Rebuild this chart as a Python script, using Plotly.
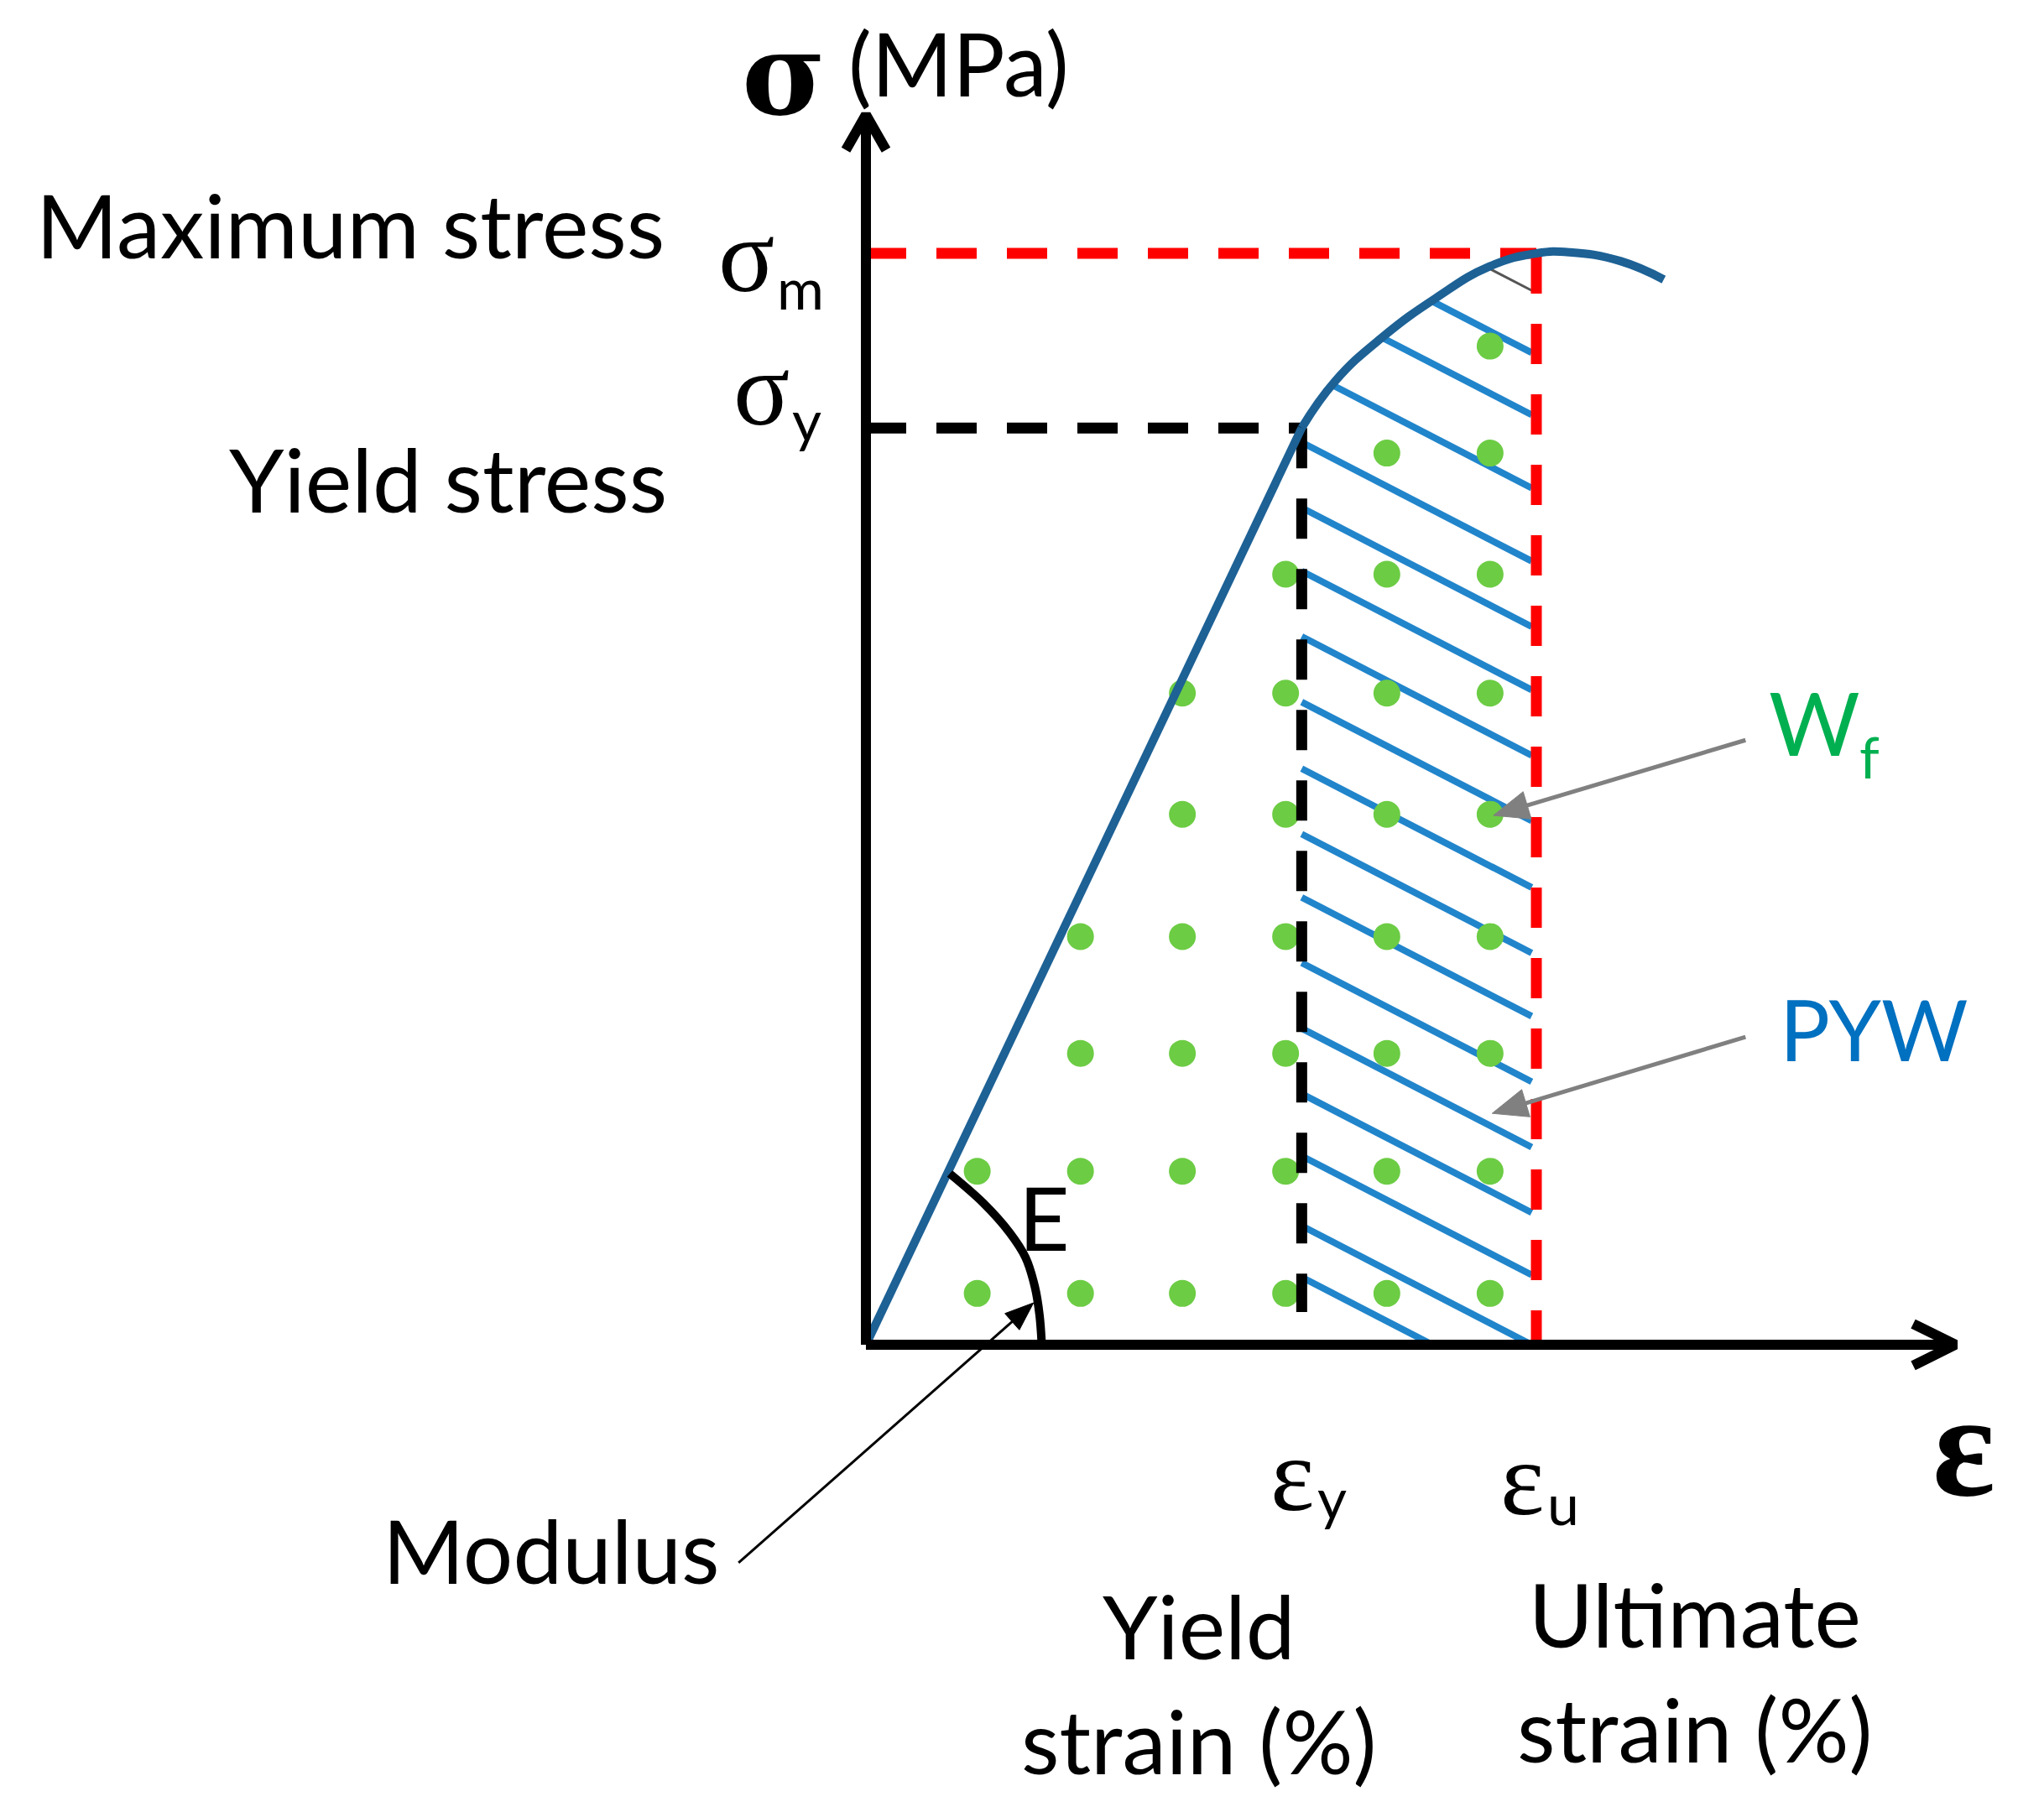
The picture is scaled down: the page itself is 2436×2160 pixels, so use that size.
import numpy as np
import plotly.graph_objects as go

# ---------------- data (strain in arbitrary %, stress in arbitrary MPa) ----------------
eps_y = 6.5          # yield strain
eps_u = 10.0         # ultimate strain
sig_y = 84.0         # yield stress
sig_m = 100.0        # maximum stress

# elastic part
elastic_strain = [0.0, 6.5]
elastic_stress = [0.0, 84.0]
# plastic part (smooth)
plastic_strain = [6.5, 7.0, 7.7, 8.5, 9.3, 10.0, 10.5, 11.25, 11.9]
plastic_stress = [84.0, 88.3, 92.3, 95.9, 98.8, 100.0, 100.1, 99.3, 97.6]

# hatch lines (PYW): stress at the right end (at eps_u) of each line
hatch_right_stress = [-4.7, 0.0, 6.4, 12.1, 18.1, 24.1, 30.1, 35.9, 41.9, 48.0,
                      54.0, 60.0, 65.8, 71.8, 78.5, 85.2, 90.9]
hatch_grey_stress = [96.6]
hatch_slope = 3.175           # stress per strain unit (lines fall to the right)
hatch_right_strain = 9.93

# green dots (Wf)
dot_rows = [91.5, 81.7, 70.6, 59.7, 48.6, 37.4, 26.7, 15.9, 4.7]
dot_cols = [1.66, 3.20, 4.72, 6.26, 7.77, 9.31]
dot_first_col = [5, 4, 3, 2, 2, 1, 1, 0, 0]   # first column index present in each row

# modulus arc "E"
arc_strain = [1.25, 1.75, 2.14, 2.38, 2.52, 2.59, 2.62]
arc_stress = [15.68, 12.99, 10.30, 8.00, 5.30, 2.69, 0.31]

# axes extents
eps_axis_max = 16.25
sig_axis_max = 112.7

# arrows (tail -> head)
modulus_arrow = {"tail": (-1.90, -19.98), "head": (2.50, 3.84)}
wf_arrow = {"tail": (13.12, 55.4), "head": (9.36, 48.5)}
pyw_arrow = {"tail": (13.12, 28.2), "head": (9.34, 21.2)}

# ---------------- canvas ----------------
W, H = 2436, 2160
X_RANGE = [-12.816, 17.672]
Y_RANGE = [-43.43, 122.60]
KX = W / (X_RANGE[1] - X_RANGE[0])     # px per strain unit
KY = H / (Y_RANGE[1] - Y_RANGE[0])     # px per stress unit

BLUE_CURVE = "#1D6195"
BLUE_HATCH = "#2185CB"
GREEN_DOT = "#6CCC44"
RED = "#FF0000"

fig = go.Figure()

curve_x = np.array(plastic_strain)
curve_y = np.array(plastic_stress)


def hatch_segment(c):
    def L(x):
        return c + hatch_slope * (hatch_right_strain - x)
    xr = hatch_right_strain
    if c < 0:
        xr = hatch_right_strain + c / hatch_slope
    xl = eps_y
    if L(eps_y) > sig_y:
        xs = np.linspace(eps_y, hatch_right_strain, 2000)
        diff = L(xs) - np.interp(xs, curve_x, curve_y)
        idx = np.argmax(diff <= 0)
        xl = xs[idx]
    return [xl, xr], [L(xl), L(xr)]


for c in hatch_right_stress:
    hx, hy = hatch_segment(c)
    fig.add_trace(go.Scatter(x=hx, y=hy, mode="lines",
                             line=dict(color=BLUE_HATCH, width=8), hoverinfo="skip"))
for c in hatch_grey_stress:
    hx, hy = hatch_segment(c)
    fig.add_trace(go.Scatter(x=hx, y=hy, mode="lines",
                             line=dict(color="#555555", width=3), hoverinfo="skip"))

# dots
dx, dy = [], []
for r, first in zip(dot_rows, dot_first_col):
    for cx in dot_cols[first:]:
        dx.append(cx)
        dy.append(r)
fig.add_trace(go.Scatter(x=dx, y=dy, mode="markers",
                         marker=dict(color=GREEN_DOT, size=32, line=dict(width=0)),
                         hoverinfo="skip"))

# dashed guide lines
DASH = "48px,36px"
fig.add_trace(go.Scatter(x=[0, eps_u], y=[sig_m, sig_m], mode="lines",
                         line=dict(color=RED, width=13, dash=DASH), hoverinfo="skip"))
fig.add_trace(go.Scatter(x=[eps_u, eps_u], y=[sig_m, 0], mode="lines",
                         line=dict(color=RED, width=13, dash=DASH), hoverinfo="skip"))
fig.add_trace(go.Scatter(x=[0, eps_y], y=[sig_y, sig_y], mode="lines",
                         line=dict(color="black", width=13, dash=DASH), hoverinfo="skip"))
fig.add_trace(go.Scatter(x=[eps_y, eps_y], y=[sig_y, 3.0], mode="lines",
                         line=dict(color="black", width=13, dash=DASH), hoverinfo="skip"))

# stress-strain curve
fig.add_trace(go.Scatter(x=elastic_strain, y=elastic_stress, mode="lines",
                         line=dict(color=BLUE_CURVE, width=10), hoverinfo="skip"))
fig.add_trace(go.Scatter(x=plastic_strain, y=plastic_stress, mode="lines",
                         line=dict(color=BLUE_CURVE, width=10, shape="spline", smoothing=1.3),
                         hoverinfo="skip"))

# E arc
fig.add_trace(go.Scatter(x=arc_strain, y=arc_stress, mode="lines",
                         line=dict(color="black", width=10, shape="spline", smoothing=1.0),
                         hoverinfo="skip"))

# axes with open arrow heads
fig.add_trace(go.Scatter(x=[0, eps_axis_max], y=[0, 0], mode="lines",
                         line=dict(color="black", width=12), hoverinfo="skip"))
fig.add_trace(go.Scatter(x=[0, 0], y=[0, sig_axis_max], mode="lines",
                         line=dict(color="black", width=12), hoverinfo="skip"))
fig.add_trace(go.Scatter(x=[eps_axis_max - 0.63, eps_axis_max, eps_axis_max - 0.63],
                         y=[1.92, 0, -1.92], mode="lines",
                         line=dict(color="black", width=12), hoverinfo="skip"))
fig.add_trace(go.Scatter(x=[-0.30, 0, 0.30],
                         y=[sig_axis_max - 3.23, sig_axis_max, sig_axis_max - 3.23], mode="lines",
                         line=dict(color="black", width=12), hoverinfo="skip"))


# pointer arrows: shaft + filled triangular head (head size given in screen px)
def arrow(a, color, width, head_len, head_half):
    (tx, ty), (hx, hy) = a["tail"], a["head"]
    vx, vy = (hx - tx) * KX, (hy - ty) * KY          # screen-like vector (y up)
    n = np.hypot(vx, vy)
    ux, uy = vx / n, vy / n
    bx, by = hx - ux * head_len / KX, hy - uy * head_len / KY      # base centre
    px_, py_ = -uy, ux
    b1 = (bx + px_ * head_half / KX, by + py_ * head_half / KY)
    b2 = (bx - px_ * head_half / KX, by - py_ * head_half / KY)
    fig.add_trace(go.Scatter(x=[tx, bx + ux * 2 / KX], y=[ty, by + uy * 2 / KY], mode="lines",
                             line=dict(color=color, width=width), hoverinfo="skip"))
    fig.add_trace(go.Scatter(x=[hx, b1[0], b2[0], hx], y=[hy, b1[1], b2[1], hy],
                             mode="lines", fill="toself", fillcolor=color,
                             line=dict(color=color, width=1), hoverinfo="skip"))


arrow(modulus_arrow, "black", 3, 34, 13)
arrow(wf_arrow, "#808080", 5, 42, 17)
arrow(pyw_arrow, "#808080", 5, 42, 17)

# ---------------- text ----------------
SANS = "Lato"
SERIF = "Liberation Serif"


def label(text, px, py, size, family=SANS, color="black", xanchor="left",
          yanchor="middle", bold=False):
    fig.add_annotation(x=px / W, y=1 - py / H, xref="paper", yref="paper",
                       text=("<b>%s</b>" % text) if bold else text,
                       showarrow=False, xanchor=xanchor, yanchor=yanchor,
                       borderpad=0, borderwidth=0,
                       font=dict(family=family, size=size, color=color))


label("Maximum stress", 784, 259, 105, xanchor="right")
label("Yield stress", 787, 562, 105, xanchor="right")
label("Modulus", 850, 1839, 105, xanchor="right")
label("E", 1236, 1442, 105, xanchor="center")
label("PYW", 2113, 1218, 100, color="#0070C0")
label("W", 2100, 852, 105, color="#00B050")
label("f", 2208, 894, 68, color="#00B050")
label("(MPa)", 1003, 66, 104)
label("Yield<br>strain (%)", 1421, 1997, 105, xanchor="center")
label("Ultimate<br>strain (%)", 2012, 1983, 105, xanchor="center")

label("σ", 926, 0, 136, family="DejaVu Serif", xanchor="center", yanchor="top", bold=True)
label("ε", 2332, 1715, 175, family=SERIF, xanchor="center", bold=True)

label("σ", 848, 297, 125, family=SERIF)
label("m", 918, 334, 68)
label("σ", 866, 456, 125, family=SERIF)
label("y", 936, 492, 68)
label("ε", 1506, 1750, 125, family=SERIF)
label("y", 1562, 1776, 68)
label("ε", 1780, 1755, 125, family=SERIF)
label("u", 1836, 1783, 68)

fig.update_layout(
    width=W, height=H, margin=dict(l=0, r=0, t=0, b=0),
    paper_bgcolor="white", plot_bgcolor="white", showlegend=False,
    xaxis=dict(range=X_RANGE, visible=False, fixedrange=True),
    yaxis=dict(range=Y_RANGE, visible=False, fixedrange=True),
)

fig.write_html("out.html")
